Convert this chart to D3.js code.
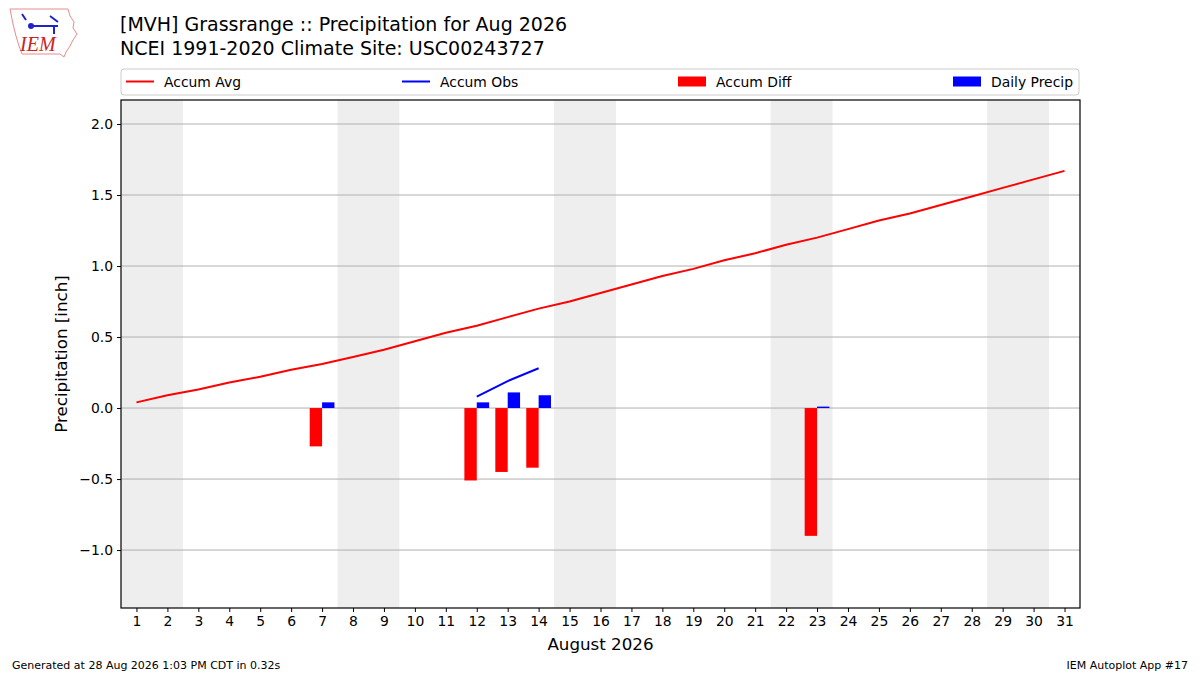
<!DOCTYPE html>
<html>
<head>
<meta charset="utf-8">
<script src="https://cdn.jsdelivr.net/npm/d3@7"></script>
<style>
  html, body { margin: 0; padding: 0; background: #fff; }
  svg { display: block; font-family: "DejaVu Sans", sans-serif; }
</style>
</head>
<body>
<svg id="chart" width="1200" height="675"></svg>
<script>
// ---- data ----
const days = d3.range(1, 32);
const accumAvg = [0.04, 0.09, 0.13, 0.18, 0.22, 0.27, 0.31, 0.36, 0.41, 0.47,
                  0.53, 0.58, 0.64, 0.70, 0.75, 0.81, 0.87, 0.93, 0.98, 1.04,
                  1.09, 1.15, 1.20, 1.26, 1.32, 1.37, 1.43, 1.49, 1.55, 1.61, 1.67];
const obsDays = [7, 12, 13, 14, 23];
const dailyPrecip = [0.04, 0.04, 0.11, 0.09, 0.01];
const accumDiff = [-0.27, -0.51, -0.45, -0.42, -0.90];
const accumObsDays = [12, 13, 14];
const accumObs = [0.08, 0.19, 0.28];
const yTicks = [-1.0, -0.5, 0.0, 0.5, 1.0, 1.5, 2.0];
const legendLabels = ["Accum Avg", "Accum Obs", "Accum Diff", "Daily Precip"];
const titleLines = ["[MVH] Grassrange :: Precipitation for Aug 2026",
                    "NCEI 1991-2020 Climate Site: USC00243727"];

// ---- layout ----
const svg = d3.select("#chart");
const L = 121, R = 1080, T = 100, B = 608;
const x = d3.scaleLinear().domain([0.5, 31.5]).range([L, R]);
const y = d3.scaleLinear().domain([-1.408, 2.169]).range([B, T]);

svg.append("rect").attr("width", 1200).attr("height", 675).attr("fill", "#fff");

// weekend shading (merge consecutive weekend days into spans)
const weekend = days.filter(d => { const w = new Date(2026, 7, d).getDay(); return w === 0 || w === 6; });
const spans = [];
weekend.forEach(d => {
  const last = spans[spans.length - 1];
  if (last && last[1] === d - 1) last[1] = d; else spans.push([d, d]);
});
svg.append("g").selectAll("rect").data(spans).join("rect")
  .attr("x", d => x(d[0] - 0.5)).attr("width", d => x(d[1] + 0.5) - x(d[0] - 0.5))
  .attr("y", T).attr("height", B - T).attr("fill", "#eeeeee");

// grid
svg.append("g").selectAll("line").data(yTicks).join("line")
  .attr("x1", L).attr("x2", R).attr("y1", d => y(d)).attr("y2", d => y(d))
  .attr("stroke", "#b0b0b0").attr("stroke-width", 1);

const bw = 0.4;
// accum diff bars (red, left of day)
svg.append("g").selectAll("rect").data(obsDays.map((d, i) => [d, accumDiff[i]])).join("rect")
  .attr("x", d => x(d[0] - bw)).attr("width", x(bw) - x(0))
  .attr("y", d => y(Math.max(0, d[1]))).attr("height", d => Math.abs(y(d[1]) - y(0)))
  .attr("fill", "#ff0000");
// daily precip bars (blue, right of day)
svg.append("g").selectAll("rect").data(obsDays.map((d, i) => [d, dailyPrecip[i]])).join("rect")
  .attr("x", d => x(d[0])).attr("width", x(bw) - x(0))
  .attr("y", d => y(Math.max(0, d[1]))).attr("height", d => Math.abs(y(d[1]) - y(0)))
  .attr("fill", "#0000ff");

const line = d3.line().x(d => x(d[0])).y(d => y(d[1]));
svg.append("path").datum(days.map((d, i) => [d, accumAvg[i]]))
  .attr("d", line).attr("fill", "none").attr("stroke", "#ff0000").attr("stroke-width", 2);
svg.append("path").datum(accumObsDays.map((d, i) => [d, accumObs[i]]))
  .attr("d", line).attr("fill", "none").attr("stroke", "#0000ff").attr("stroke-width", 2);

// frame
svg.append("rect").attr("x", L).attr("y", T).attr("width", R - L).attr("height", B - T)
  .attr("fill", "none").attr("stroke", "#000").attr("stroke-width", 1.2);

// axes
const xAxis = svg.append("g").attr("transform", `translate(0,${B})`)
  .call(d3.axisBottom(x).tickValues(days).tickFormat(d3.format("d")).tickSize(4).tickPadding(4));
const yAxis = svg.append("g").attr("transform", `translate(${L},0)`)
  .call(d3.axisLeft(y).tickValues(yTicks).tickFormat(d3.format(".1f")).tickSize(4).tickPadding(4));
[xAxis, yAxis].forEach(g => {
  g.select(".domain").remove();
  g.selectAll("text").attr("font-family", "DejaVu Sans").attr("font-size", 13.9).attr("fill", "#000");
  g.selectAll("line").attr("stroke", "#000");
});
yAxis.selectAll("text").text(d => d.toFixed(1).replace("-", "\u2212"));

svg.append("text").attr("x", (L + R) / 2).attr("y", 650).attr("text-anchor", "middle")
  .attr("font-size", 16.7).text("August 2026");
svg.append("text").attr("transform", `translate(67,${(T + B) / 2}) rotate(-90)`)
  .attr("text-anchor", "middle").attr("font-size", 16.7).text("Precipitation [inch]");

// titles
titleLines.forEach((t, i) => {
  svg.append("text").attr("x", 120).attr("y", 31 + i * 24).attr("font-size", 19).text(t);
});

// legend
const lg = svg.append("g");
lg.append("rect").attr("x", L).attr("y", 69).attr("width", R - L - 1).attr("height", 26)
  .attr("rx", 3).attr("fill", "#fff").attr("stroke", "#cccccc");
const legX = [126, 402, 678, 953];
legendLabels.forEach((lab, i) => {
  const col = i % 2 === 0 ? "#ff0000" : "#0000ff";
  if (i < 2) {
    lg.append("line").attr("x1", legX[i]).attr("x2", legX[i] + 28).attr("y1", 81.5).attr("y2", 81.5)
      .attr("stroke", col).attr("stroke-width", 2);
  } else {
    lg.append("rect").attr("x", legX[i]).attr("y", 76.5).attr("width", 28).attr("height", 10).attr("fill", col);
  }
  lg.append("text").attr("x", legX[i] + 38).attr("y", 86.5).attr("font-size", 13.9).text(lab);
});

// footer
svg.append("text").attr("x", 12).attr("y", 669).attr("font-size", 11)
  .text("Generated at 28 Aug 2026 1:03 PM CDT in 0.32s");
svg.append("text").attr("x", 1188).attr("y", 669).attr("font-size", 11).attr("text-anchor", "end")
  .text("IEM Autoplot App #17");

// logo (approximation)
const logo = svg.append("g");
logo.append("path")
  .attr("d", "M10,9 L68,9 L70,16 L74,22 L73,28 L77,34 L73,40 L70,46 L66,52 L64,57 L60,54 L22,54 L19,46 L16,36 L13,24 Z")
  .attr("fill", "#fff").attr("stroke", "#e88b8b").attr("stroke-width", 1);
logo.append("path").attr("d", "M30,26 L58,26 M54,26 L54,34 M50,16 L58,22 M22,14 L26,20")
  .attr("fill", "none").attr("stroke", "#2222cc").attr("stroke-width", 2);
logo.append("circle").attr("cx", 31).attr("cy", 26).attr("r", 3).attr("fill", "#2222cc");
logo.append("text").attr("x", 20).attr("y", 51).attr("font-family", "Liberation Serif").attr("font-style", "italic")
  .attr("font-size", 20).attr("fill", "#cc2222").text("IEM");
</script>
</body>
</html>
